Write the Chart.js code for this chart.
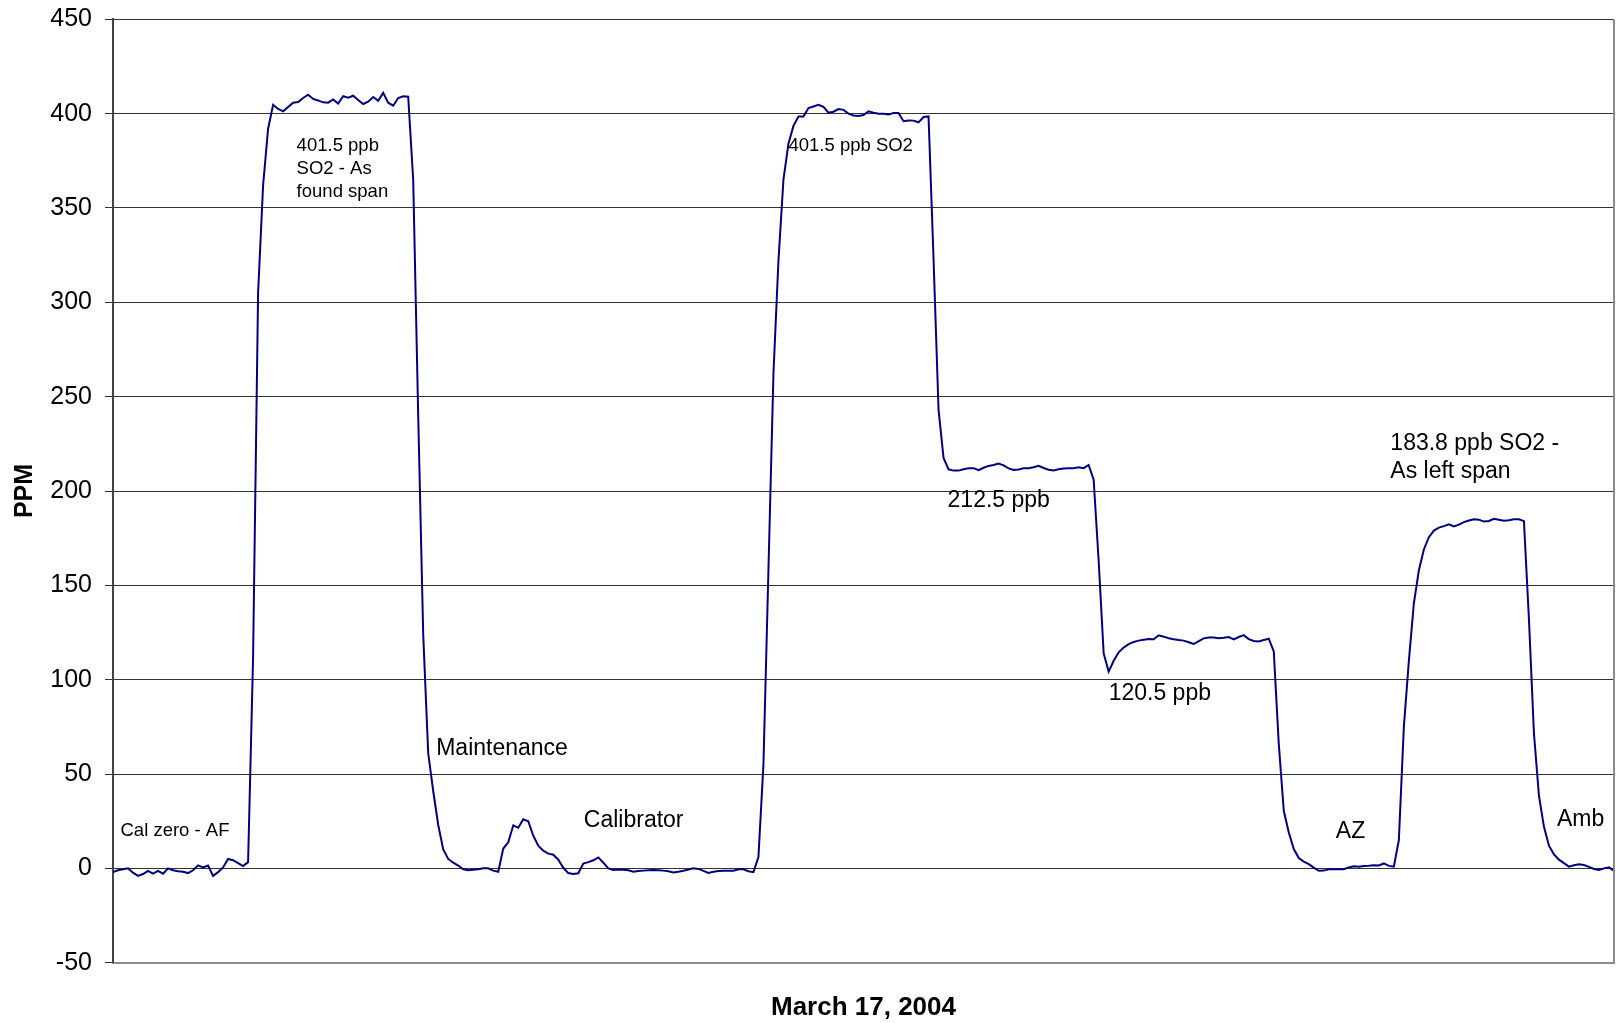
<!DOCTYPE html>
<html>
<head>
<meta charset="utf-8">
<title>SO2 analyzer calibration – March 17, 2004</title>
<script src="https://cdn.jsdelivr.net/npm/chart.js@4.4.1/dist/chart.umd.min.js"></script>
<style>
  html, body { margin: 0; padding: 0; background: #ffffff; }
  #wrap { width: 1616px; height: 1023px; }
</style>
</head>
<body>
<div id="wrap"><canvas id="chart" width="1616" height="1023"></canvas></div>
<script>
// Analyzer trace (PPM), one reading per sample, split by calibration step.
const zeroAsFound = [-2, -1, -0.5, 0, -2.3, -4, -3, -1.3, -2.8, -1.3, -2.8, 0, -1, -1.5, -1.8, -2.5, -1, 1.6, 0.5, 1.5, -4, -2, 0.5, 5, 4.3, 2.8, 1.2, 3.3];
const spanAsFound = [112, 305, 362, 392, 404.7, 402.5, 401.2, 403.5, 405.8, 406.2, 408.3, 410, 407.8, 407, 406, 405.8, 407.5, 405.4, 409.2, 408.4, 409.5, 407.2, 405.1, 406.3, 408.8, 406.8, 411, 405.8, 404.2, 408.3, 409.2, 409];
const maintenance = [365, 240, 124, 61, 41, 23, 10, 5, 3, 1.5, -0.5, -1, -0.8, -0.5, 0, 0, -1.2, -1.8, 10.5, 13.8, 22.8, 21.5, 26, 25, 17.3, 12, 9.4, 7.8, 7.2, 4.6, 0.3, -2.5, -3, -2.6];
const calibrator = [2.5, 3.3, 4.3, 5.8, 3, 0, -0.9, -0.6, -0.7, -1, -1.8, -1.4, -1.2, -1, -0.9, -1, -1.2, -1.5, -2.2, -1.8, -1.3, -0.6, 0, -0.3, -1.3, -2.4, -1.8, -1.4, -1.3, -1.3, -1.3, -0.5, -0.5, -1.5, -2, 6];
const span401 = [55, 158, 262, 322, 365, 384, 393.5, 398.5, 398.5, 403, 403.8, 404.7, 403.6, 400.5, 401, 402.4, 402, 400, 399, 398.8, 399.3, 401.2, 400.5, 399.9, 399.9, 399.5, 400.3, 400.3, 396, 396.4, 396.3, 395.4, 398.2, 398.5];
const span212 = [323, 243, 217.5, 211.5, 210.8, 210.8, 211.5, 212.1, 212.1, 211, 212.3, 213.3, 213.8, 214.5, 213.6, 212, 211.2, 211.4, 212.1, 212.1, 212.6, 213.3, 212.2, 211.3, 210.9, 211.5, 211.9, 212.1, 212.1, 212.6, 212.1, 213.8];
const span120 = [206, 163, 114, 104.3, 110, 114.5, 117, 118.8, 120, 120.7, 121.2, 121.6, 121.4, 123.5, 122.8, 122, 121.4, 121, 120.7, 119.8, 118.9, 120.4, 121.9, 122.3, 122.3, 122, 122.2, 122.6, 121.4, 122.6, 123.6, 121.5, 120.5, 120.3, 121, 121.7];
const autoZero = [115, 66, 30.5, 19, 10.2, 5.5, 3.6, 2.2, 0.4, -1.3, -1.2, -0.5, -0.5, -0.5, -0.5, 0.5, 1.1, 0.9, 1.3, 1.4, 1.7, 1.5, 2.6, 1.3, 0.9];
const spanAsLeft = [15, 75, 110, 140.5, 158, 169, 175.5, 179, 180.6, 181.4, 182.3, 181.2, 182.2, 183.5, 184.4, 185, 184.8, 183.8, 184.1, 185.3, 184.8, 184.3, 184.5, 185, 185, 184];
const ambient = [132, 71.5, 38.5, 22, 12, 7.4, 4.6, 2.8, 0.9, 1.6, 2.2, 1.8, 0.8, -0.3, -0.9, 0, 0.5, -1.3];

const ppm = [].concat(zeroAsFound, spanAsFound, maintenance, calibrator, span401,
                      span212, span120, autoZero, spanAsLeft, ambient);

// Value axis range and tick step
const yMin = -50, yMax = 450, yStep = 50;

const yTitle = 'PPM';
const xTitle = 'March 17, 2004';

// Step notes, anchored at (sample, PPM) for the first text line
const notes = [
  { lines: ['Cal zero - AF'], at: [1.5, 20], small: true },
  { lines: ['401.5 ppb', 'SO2 - As', 'found span'], at: [36.7, 383], small: true },
  { lines: ['Maintenance'], at: [64.6, 63.7] },
  { lines: ['Calibrator'], at: [94.1, 25.4] },
  { lines: ['401.5 ppb SO2'], at: [135, 383], small: true },
  { lines: ['212.5 ppb'], at: [166.8, 194.8] },
  { lines: ['120.5 ppb'], at: [199, 92.6] },
  { lines: ['AZ'], at: [244.4, 19.4] },
  { lines: ['183.8 ppb SO2 -', 'As left span'], at: [255.3, 225.3] },
  { lines: ['Amb'], at: [288.6, 25.6] }
];

const FONT = '"Liberation Sans", Arial, Helvetica, sans-serif';

const notesPlugin = {
  id: 'stepNotes',
  afterDatasetsDraw(chart) {
    const { ctx, scales: { x, y } } = chart;
    ctx.save();
    ctx.fillStyle = '#000000';
    ctx.textAlign = 'left';
    ctx.textBaseline = 'middle';
    notes.forEach(n => {
      const size = n.small ? 18.5 : 23;
      const lh = n.small ? 23.3 : 28.4;
      ctx.font = size + 'px ' + FONT;
      const px = x.getPixelForValue(n.at[0]);
      const py = y.getPixelForValue(n.at[1]);
      n.lines.forEach((t, k) => ctx.fillText(t, px, py + k * lh));
    });
    ctx.restore();
  }
};

// Right-hand frame line of the plot area
const framePlugin = {
  id: 'plotFrame',
  afterDraw(chart) {
    const { ctx, chartArea: a } = chart;
    ctx.save();
    ctx.strokeStyle = '#8c8c8c';
    ctx.lineWidth = 2;
    ctx.beginPath();
    ctx.moveTo(a.right, a.top);
    ctx.lineTo(a.right, a.bottom + 1);
    ctx.stroke();
    ctx.restore();
  }
};

new Chart(document.getElementById('chart'), {
  type: 'line',
  data: {
    datasets: [{
      data: ppm.map((v, i) => ({ x: i, y: v })),
      borderColor: '#000080',
      borderWidth: 2,
      pointRadius: 0,
      tension: 0,
      fill: false
    }]
  },
  options: {
    responsive: false,
    animation: false,
    devicePixelRatio: 1,
    layout: { padding: { top: 19.3, right: 2, left: 0, bottom: 0 } },
    plugins: { legend: { display: false }, tooltip: { enabled: false } },
    scales: {
      x: {
        type: 'linear',
        min: 0,
        max: ppm.length - 1,
        ticks: { display: false },
        grid: { display: false },
        border: { display: true, color: '#8c8c8c', width: 2 },
        title: {
          display: true,
          text: xTitle,
          color: '#000000',
          font: { family: FONT, size: 26, weight: 'bold' },
          padding: { top: 0, bottom: 0 }
        },
        afterFit(scale) { scale.height = 60.3; }
      },
      y: {
        min: yMin,
        max: yMax,
        ticks: {
          stepSize: yStep,
          color: '#000000',
          padding: 13,
          font: { family: FONT, size: 25 }
        },
        grid: {
          color: '#333333',
          lineWidth: 1,
          drawTicks: true,
          tickLength: 8,
          tickColor: '#333333'
        },
        border: { display: true, color: '#444444', width: 2 },
        title: {
          display: true,
          text: yTitle,
          color: '#000000',
          font: { family: FONT, size: 25, weight: 'bold' },
          padding: { top: 10, bottom: 0 }
        },
        afterFit(scale) {
          scale.width = 113;
          // tick labels may overhang the plot edges; keep the plot box fixed
          scale.paddingTop = 0;
          scale.paddingBottom = 0;
        }
      }
    }
  },
  plugins: [notesPlugin, framePlugin]
});
</script>
</body>
</html>
